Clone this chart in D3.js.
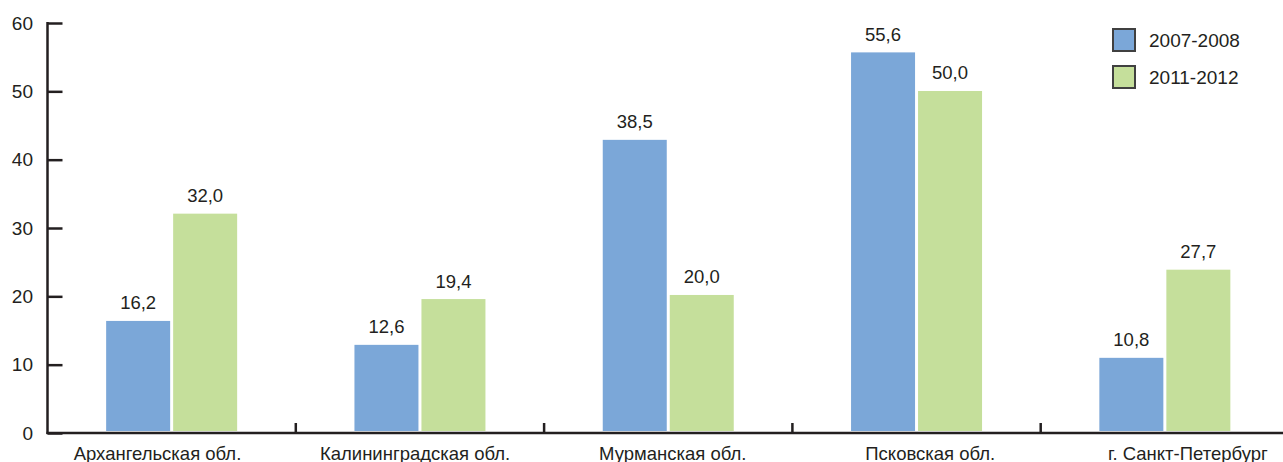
<!DOCTYPE html>
<html>
<head>
<meta charset="utf-8">
<script src="https://cdn.jsdelivr.net/npm/d3@7"></script>
<style>
  html, body { margin: 0; padding: 0; background: #fff; }
  svg { display: block; }
  text { font-family: "Liberation Sans", Arial, sans-serif; fill: #231f20; }
</style>
</head>
<body>
<svg id="chart" width="1283" height="462"></svg>
<script>
// ---- data ----
const categories = ["Архангельская обл.", "Калининградская обл.", "Мурманская обл.", "Псковская обл.", "г. Санкт-Петербург"];
const seriesNames = ["2007-2008", "2011-2012"];
// bar heights as drawn in the picture
const values2007 = [16.4, 12.9, 42.9, 55.7, 11.0];
const values2011 = [32.1, 19.6, 20.2, 50.05, 23.9];
// printed labels
const labels2007 = ["16,2", "12,6", "38,5", "55,6", "10,8"];
const labels2011 = ["32,0", "19,4", "20,0", "50,0", "27,7"];
const yTicks = [0, 10, 20, 30, 40, 50, 60];
const colors = ["#7ba7d8", "#c5df9b"];

// ---- layout ----
const svg = d3.select("#chart");
const x0 = 47.5, bandW = 248.3;
const y = d3.scaleLinear().domain([0, 60]).range([433, 23]);
const x = d3.scaleBand().domain(categories).range([x0, x0 + bandW * categories.length]).padding(0);
const xLabel = d3.scalePoint().domain(categories).range([157.5, 157.5 + 257.6 * 4]);
const xs = d3.scaleBand().domain(seriesNames).range([0, 131]).paddingInner(3 / 67);
const groupOffset = (bandW - 131) / 2;

const series = [
  { name: seriesNames[0], values: values2007, labels: labels2007, color: colors[0] },
  { name: seriesNames[1], values: values2011, labels: labels2011, color: colors[1] }
];

// bars
series.forEach(s => {
  const g = svg.append("g");
  g.selectAll("rect").data(categories).join("rect")
    .attr("x", (c) => x(c) + groupOffset + xs(s.name))
    .attr("width", xs.bandwidth())
    .attr("y", (c, i) => y(s.values[i]))
    .attr("height", (c, i) => y(0) - 2 - y(s.values[i]))
    .attr("fill", s.color);
  g.selectAll("text").data(categories).join("text")
    .attr("x", (c) => x(c) + groupOffset + xs(s.name) + xs.bandwidth() / 2)
    .attr("y", (c, i) => y(s.values[i]) - 11.5)
    .attr("text-anchor", "middle")
    .attr("font-size", 18.5)
    .text((c, i) => s.labels[i]);
});

// y axis
const yAxis = d3.axisRight(y).tickValues(yTicks).tickSize(15).tickFormat("");
const ya = svg.append("g").attr("transform", `translate(${x0},0)`).call(yAxis);
ya.selectAll("line").attr("stroke", "#231f20").attr("stroke-width", 2.5);
ya.select(".domain").attr("stroke", "#231f20").attr("stroke-width", 2.5).attr("d", `M0,${y(60) - 1}V${y(0) + 1}`);
svg.append("g").selectAll("text").data(yTicks).join("text")
  .attr("x", 33).attr("y", d => y(d) + 6.8)
  .attr("text-anchor", "end").attr("font-size", 19)
  .text(d => d);

// x axis baseline
svg.append("line")
  .attr("x1", x0 - 1).attr("x2", 1283)
  .attr("y1", y(0)).attr("y2", y(0))
  .attr("stroke", "#231f20").attr("stroke-width", 2.5);
// category separators
svg.append("g").selectAll("line").data(categories.slice(1)).join("line")
  .attr("x1", c => x(c)).attr("x2", c => x(c))
  .attr("y1", y(0)).attr("y2", y(0) - 10)
  .attr("stroke", "#231f20").attr("stroke-width", 2.5);
// category labels
svg.append("g").selectAll("text").data(categories).join("text")
  .attr("x", c => xLabel(c)).attr("y", 460)
  .attr("text-anchor", "middle").attr("font-size", 18.5)
  .text(c => c);

// legend
const legend = svg.append("g");
series.forEach((s, i) => {
  legend.append("rect")
    .attr("x", 1113).attr("y", 29 + i * 37)
    .attr("width", 22).attr("height", 22)
    .attr("fill", s.color).attr("stroke", "#404040").attr("stroke-width", 2);
  legend.append("text")
    .attr("x", 1149).attr("y", 47 + i * 37)
    .attr("font-size", 19)
    .text(s.name);
});
</script>
</body>
</html>
